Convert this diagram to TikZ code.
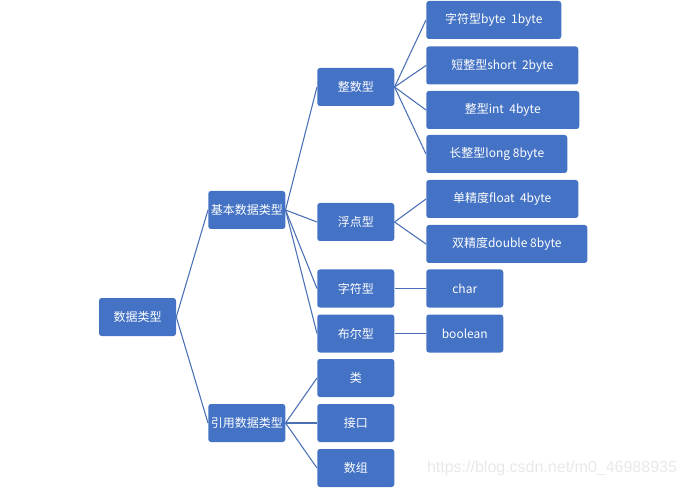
\documentclass[tikz,border=0pt]{standalone}
\usepackage{fontspec}
\newfontfamily\cjk{Noto Sans CJK SC}
\newfontfamily\markfont{Liberation Sans}
\definecolor{boxblue}{HTML}{4472C4}
\definecolor{lineblue}{HTML}{4A6FB5}
\begin{document}
\begin{tikzpicture}[x=0.75pt, y=-0.75pt]
    % --- 样式设置 ---
    \tikzstyle{typebox}=[fill=boxblue, rounded corners=2pt, text=white, inner sep=0pt,
        minimum height=28.5pt, minimum width=57.75pt, font=\cjk\fontsize{9}{11}\selectfont]
    \tikzstyle{link}=[lineblue, line width=0.8pt]

    % 0. 画布范围
    \useasboundingbox (0,0) rectangle (685,488);

    % 1. 根节点
    \node[typebox] (root) at (137.5,317) {数据类型};

    % 2. 第二层: 基本 / 引用
    \node[typebox, anchor=west] (basic) at (208,210) {基本数据类型};
    \node[typebox, anchor=west] (ref) at (208,423) {引用数据类型};

    % 3. 第三层
    \node[typebox, anchor=west] (int) at (317,87) {整数型};
    \node[typebox, anchor=west] (float) at (317,222) {浮点型};
    \node[typebox, anchor=west] (char) at (317,288.5) {字符型};
    \node[typebox, anchor=west] (bool) at (317,333.5) {布尔型};
    \node[typebox, anchor=west] (class) at (317,378) {类};
    \node[typebox, anchor=west] (iface) at (317,423) {接口};
    \node[typebox, anchor=west] (array) at (317,468) {数组};

    % 4. 第四层 (具体类型)
    \node[typebox, anchor=west, minimum width=101.25pt] (tbyte) at (426,20) {字符型byte\ \ 1byte};
    \node[typebox, anchor=west, minimum width=114pt] (tshort) at (426,65.5) {短整型short\ \ 2byte};
    \node[typebox, anchor=west, minimum width=114.75pt] (tint) at (426,110) {整型int\ \ 4byte};
    \node[typebox, anchor=west, minimum width=105.75pt] (tlong) at (426,154) {长整型long 8byte};
    \node[typebox, anchor=west, minimum width=114pt] (tfloat) at (426,199) {单精度float\ \ 4byte};
    \node[typebox, anchor=west, minimum width=120.75pt] (tdouble) at (426,244) {双精度double 8byte};
    \node[typebox, anchor=west] (tchar) at (426,288.5) {char};
    \node[typebox, anchor=west] (tbool) at (426,333.5) {boolean};

    % 5. 连线
    \foreach \a/\b in {root/basic, root/ref,
        basic/int, basic/float, basic/char, basic/bool,
        ref/class, ref/iface, ref/array,
        int/tbyte, int/tshort, int/tint, int/tlong,
        float/tfloat, float/tdouble, char/tchar, bool/tbool}
        \draw[link] (\a.east) -- (\b.west);

    % 6. 水印
    \node[gray!18, font=\markfont\fontsize{12}{14}\selectfont] (mark) at (552,468) {https://blog.csdn.net/m0\_46988935};
\end{tikzpicture}
\end{document}
